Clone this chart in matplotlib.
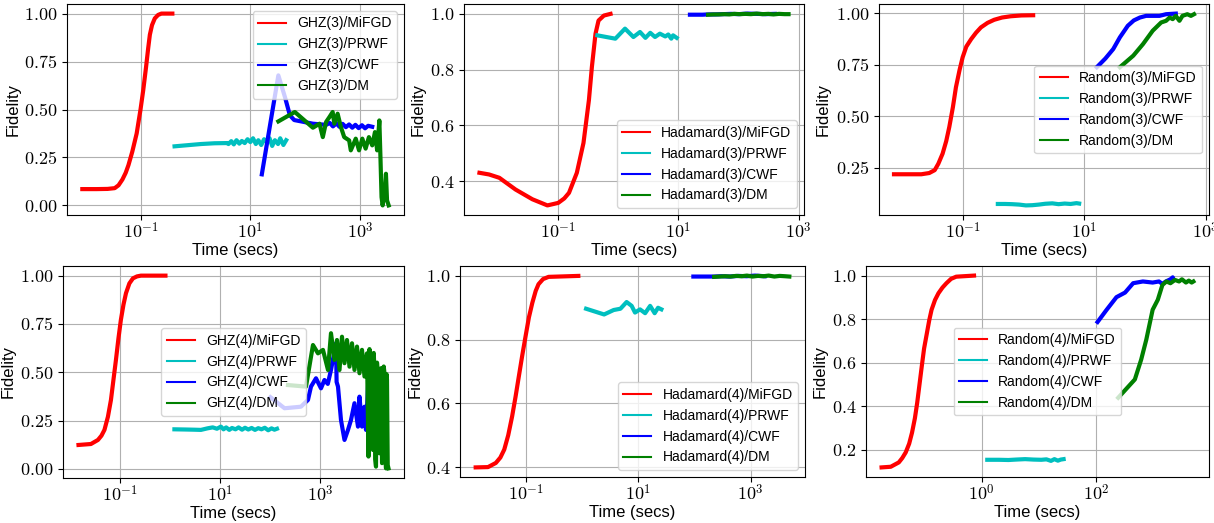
import numpy as np
import matplotlib
matplotlib.use("Agg")
import matplotlib.pyplot as plt
from matplotlib.ticker import FixedLocator, FuncFormatter, NullLocator

plt.rcParams['mathtext.fontset'] = 'cm'
plt.rcParams['font.family'] = ['Liberation Sans', 'DejaVu Sans']

methods = ["MiFGD", "PRWF", "CWF", "DM"]
colors = ["r", "c", "b", "g"]

# === GHZ(3) ===
ghz3_mifgd_t = [0.00871, 0.0158, 0.0251, 0.0339, 0.0398, 0.0468, 0.0537, 0.0603, 0.0708, 0.0851, 0.1,
                0.112, 0.126, 0.138, 0.148, 0.162, 0.182, 0.209, 0.240, 0.380]
ghz3_mifgd_f = [0.085, 0.085, 0.086, 0.09, 0.105, 0.135, 0.17, 0.21, 0.28, 0.375, 0.5,
                0.6, 0.72, 0.82, 0.89, 0.94, 0.975, 0.993, 1.0, 1.0]
ghz3_prwf_t = [0.417, 0.794, 1.26, 2.24, 3.80, 4.0, 4.5, 5.0, 5.6, 6.3, 7.0, 7.9, 8.9, 10, 11.2, 12.6, 14,
               15.8, 17.8, 20, 22.4, 25, 28, 32, 35, 40, 45]
ghz3_prwf_f = [0.308, 0.315, 0.32, 0.324, 0.325, 0.32, 0.335, 0.318, 0.34, 0.322, 0.336, 0.325, 0.345, 0.33,
               0.35, 0.32, 0.34, 0.315, 0.345, 0.33, 0.35, 0.31, 0.34, 0.32, 0.35, 0.315, 0.34]
ghz3_cwf_t = [16.2, 32.4, 42.7, 52.5, 63, 138, 240, 280, 320, 370, 420, 480, 550, 630, 720, 820, 940,
              1080, 1230, 1400, 1660]
ghz3_cwf_f = [0.162, 0.678, 0.565, 0.47, 0.445, 0.426, 0.42, 0.43, 0.412, 0.428, 0.41, 0.425, 0.408, 0.422,
              0.405, 0.42, 0.403, 0.418, 0.402, 0.415, 0.41]
ghz3_dm_t = [32.4, 64.6, 138, 182, 209, 240, 275, 316, 339, 389, 447, 513, 631, 676, 832, 955, 1096, 1259,
             1445, 1660, 1862, 2042, 2239, 2344, 2455, 2570, 2818, 2951, 3090, 3311]
ghz3_dm_f = [0.438, 0.487, 0.405, 0.426, 0.356, 0.435, 0.46, 0.487, 0.426, 0.478, 0.408, 0.356, 0.339, 0.287,
             0.348, 0.287, 0.348, 0.296, 0.356, 0.313, 0.382, 0.287, 0.443, 0.252, 0.043, 0.0, 0.078, 0.165,
             0.026, 0.0]

# === Hadamard(3) ===
had3_mifgd_t = [0.0049, 0.00708, 0.0105, 0.0195, 0.0372, 0.0661, 0.1, 0.126, 0.151, 0.204, 0.263, 0.324,
                0.363, 0.417, 0.468, 0.575, 0.741]
had3_mifgd_f = [0.430, 0.424, 0.412, 0.370, 0.335, 0.313, 0.322, 0.338, 0.358, 0.430, 0.537, 0.691, 0.810,
                0.929, 0.976, 0.994, 1.0]
had3_prwf_t = [0.447, 0.891, 1.29, 1.78, 2.29, 2.82, 3.39, 4.07, 4.90, 6.03, 6.76, 7.59, 8.13, 9.33]
had3_prwf_f = [0.923, 0.911, 0.947, 0.917, 0.935, 0.914, 0.932, 0.917, 0.929, 0.919, 0.926, 0.911, 0.923,
               0.914]
had3_cwf_t = [15.5, 20, 25, 31, 40, 55, 75, 100, 140, 200, 280, 400]
had3_cwf_f = [0.997, 0.997, 0.997, 0.998, 0.998, 0.999, 1.0, 0.999, 1.001, 1.0, 0.999, 1.0]
had3_dm_t = [31, 38, 47, 58, 70, 85, 105, 130, 160, 200, 250, 310, 380, 470, 580, 676]
had3_dm_f = [0.997, 0.998, 0.998, 0.999, 0.998, 1.0, 0.999, 1.0, 0.999, 1.001, 0.999, 1.0, 0.998, 1.0,
             0.999, 0.999]

# === Random(3) ===
rnd3_mifgd_t = [0.00741, 0.0209, 0.0282, 0.0347, 0.0398, 0.0468, 0.0537, 0.0603, 0.0692, 0.0776, 0.0891,
                0.1, 0.115, 0.138, 0.166, 0.2, 0.257, 0.331, 0.447, 0.617, 0.93, 1.45]
rnd3_mifgd_f = [0.219, 0.219, 0.225, 0.239, 0.27, 0.319, 0.38, 0.448, 0.545, 0.641, 0.725, 0.786, 0.838,
                0.874, 0.905, 0.931, 0.953, 0.968, 0.979, 0.985, 0.989, 0.990]
rnd3_prwf_t = [0.38, 0.5, 0.65, 0.85, 1.1, 1.4, 1.8, 2.3, 3.0, 3.8, 4.8, 6.0, 7.5, 8.3]
rnd3_prwf_f = [0.075, 0.075, 0.074, 0.072, 0.068, 0.069, 0.072, 0.076, 0.078, 0.074, 0.077, 0.075, 0.079,
               0.077]
rnd3_cwf_t = [16.2, 22.4, 30.2, 38.9, 52.5, 66, 83.2, 105, 174, 224, 324]
rnd3_cwf_f = [0.738, 0.78, 0.826, 0.883, 0.939, 0.965, 0.979, 0.987, 0.987, 0.995, 0.998]
rnd3_dm_t = [38.9, 64.6, 93.3, 135, 186, 224, 257, 288, 324, 372, 417, 501, 575, 646]
rnd3_dm_f = [0.738, 0.794, 0.850, 0.915, 0.955, 0.963, 0.979, 0.971, 0.987, 0.963, 0.987, 0.995, 0.987,
             0.995]

# === GHZ(4) ===
ghz4_mifgd_t = [0.0145, 0.0257, 0.0355, 0.0417, 0.0479, 0.0562, 0.0646, 0.0724, 0.0813, 0.0912, 0.102,
                0.115, 0.129, 0.151, 0.178, 0.214, 0.257, 0.794]
ghz4_mifgd_f = [0.124, 0.129, 0.15, 0.172, 0.202, 0.27, 0.357, 0.46, 0.564, 0.675, 0.771, 0.85, 0.909,
                0.96, 0.986, 0.996, 1.0, 1.0]
ghz4_prwf_t = [1.2, 2.0, 3.0, 4.07, 5.5, 7.0, 8.5, 10.2, 11.5, 13, 15, 17, 20, 23, 27, 31, 36, 42, 49, 57,
               66, 77, 90, 105, 120, 135]
ghz4_prwf_f = [0.205, 0.204, 0.203, 0.202, 0.21, 0.215, 0.208, 0.219, 0.205, 0.215, 0.202, 0.212, 0.205,
               0.215, 0.203, 0.213, 0.204, 0.212, 0.202, 0.211, 0.205, 0.213, 0.2, 0.21, 0.203, 0.208]
ghz4_cwf_t = [100, 191, 407, 562, 646, 813, 1023, 1200, 1400, 1622, 2042, 2100, 2239, 2570, 3020, 3548,
              4074, 4786, 5623, 6026, 6761, 7586, 8128, 8913]
ghz4_cwf_f = [0.371, 0.314, 0.322, 0.357, 0.426, 0.469, 0.417, 0.46, 0.44, 0.512, 0.65, 0.45, 0.426, 0.253,
              0.15, 0.202, 0.253, 0.34, 0.219, 0.374, 0.219, 0.322, 0.202, 0.426]
ghz4_dm_t = [224, 513, 708, 891, 1122, 1413, 1622, 1905, 2138, 2399, 2692, 3020, 3388, 3802, 4266, 4786,
             5370, 6026, 6761, 7586, 8511, 9120, 9550, 10000, 10600, 11220, 11600, 12020, 12400, 12880,
             13500, 14130, 14600, 15140, 15700, 16220, 17000, 17780, 18400, 19050, 19700, 20420, 21000,
             21380, 22100, 22910]
ghz4_dm_f = [0.434, 0.426, 0.641, 0.598, 0.616, 0.512, 0.702, 0.564, 0.667, 0.512, 0.684, 0.547, 0.667,
             0.529, 0.65, 0.512, 0.633, 0.495, 0.616, 0.478, 0.598, 0.064, 0.62, 0.529, 0.15, 0.098, 0.6,
             0.512, 0.05, 0.012, 0.55, 0.478, 0.12, 0.081, 0.5, 0.521, 0.03, 0.047, 0.53, 0.495, 0.08,
             0.003, 0.49, 0.46, 0.02, 0.003]

# === Hadamard(4) ===
had4_mifgd_t = [0.0126, 0.0209, 0.0288, 0.0347, 0.0407, 0.0479, 0.0562, 0.0646, 0.0741, 0.0851, 0.0977,
                0.112, 0.129, 0.148, 0.166, 0.2, 0.251, 0.851]
had4_mifgd_f = [0.399, 0.40, 0.413, 0.43, 0.455, 0.5, 0.559, 0.62, 0.685, 0.75, 0.811, 0.87, 0.916, 0.953,
                0.974, 0.99, 0.997, 1.0]
had4_prwf_t = [1.17, 2.45, 3.63, 4.79, 6.17, 7.59, 8.71, 10.7, 13.2, 16.2, 19.5, 22.4, 25.7]
had4_prwf_f = [0.897, 0.879, 0.893, 0.897, 0.918, 0.906, 0.885, 0.895, 0.883, 0.906, 0.883, 0.90, 0.895]
had4_cwf_t = [95.5, 130, 180, 224, 300, 420, 600, 850, 1200, 1778]
had4_cwf_f = [0.998, 0.998, 0.998, 0.998, 0.999, 0.998, 1.0, 0.999, 1.001, 0.999]
had4_dm_t = [224, 280, 350, 440, 550, 690, 860, 1080, 1350, 1700, 2100, 2650, 3300, 4100, 4898]
had4_dm_f = [0.997, 0.998, 0.999, 0.998, 1.0, 0.999, 1.001, 0.998, 1.0, 0.999, 1.001, 0.998, 1.0, 0.999,
             0.998]

# === Random(4) ===
rnd4_mifgd_t = [0.0182, 0.0263, 0.0363, 0.0417, 0.0479, 0.0550, 0.0617, 0.0692, 0.0759, 0.0832, 0.0912,
                0.1, 0.112, 0.123, 0.135, 0.155, 0.178, 0.209, 0.245, 0.295, 0.363, 0.741]
rnd4_mifgd_f = [0.119, 0.122, 0.142, 0.162, 0.188, 0.228, 0.279, 0.345, 0.416, 0.5, 0.584, 0.665, 0.736,
                0.795, 0.843, 0.888, 0.919, 0.945, 0.965, 0.985, 0.995, 1.0]
rnd4_prwf_t = [1.26, 2.0, 2.95, 4.0, 5.75, 8.0, 11.0, 13.5, 16.2, 18.6, 21.4, 24, 26.9]
rnd4_prwf_f = [0.154, 0.154, 0.153, 0.155, 0.157, 0.155, 0.154, 0.156, 0.149, 0.157, 0.150, 0.155, 0.157]
rnd4_cwf_t = [105, 151, 224, 316, 437, 646, 955, 1230, 1413, 1622, 1950, 2138, 2239]
rnd4_cwf_f = [0.787, 0.843, 0.901, 0.922, 0.965, 0.973, 0.968, 0.973, 0.962, 0.973, 0.983, 0.992, 0.980]
rnd4_dm_t = [240, 468, 603, 741, 955, 1175, 1413, 1660, 1950, 2344, 2754, 3090, 3631, 4074, 4571, 4898]
rnd4_dm_f = [0.439, 0.523, 0.614, 0.706, 0.843, 0.889, 0.957, 0.973, 0.965, 0.980, 0.973, 0.983, 0.968,
             0.977, 0.968, 0.973]

# panel settings: name, series, pixel box (l, t, r, b), ylabel x px, legend loc, xticks, yticks, decimals
panels = [
    ("GHZ(3)", [(ghz3_mifgd_t, ghz3_mifgd_f), (ghz3_prwf_t, ghz3_prwf_f), (ghz3_cwf_t, ghz3_cwf_f),
                (ghz3_dm_t, ghz3_dm_f)],
     (67, 4, 404, 215), 21, "upper right", [0.1, 10, 1000], [0, 0.25, 0.5, 0.75, 1.0], 2),
    ("Hadamard(3)", [(had3_mifgd_t, had3_mifgd_f), (had3_prwf_t, had3_prwf_f), (had3_cwf_t, had3_cwf_f),
                     (had3_dm_t, had3_dm_f)],
     (464, 4, 804, 215), 426, "lower right", [0.1, 10, 1000], [0.4, 0.6, 0.8, 1.0], 1),
    ("Random(3)", [(rnd3_mifgd_t, rnd3_mifgd_f), (rnd3_prwf_t, rnd3_prwf_f), (rnd3_cwf_t, rnd3_cwf_f),
                   (rnd3_dm_t, rnd3_dm_f)],
     (879, 4, 1209, 215), 831, "center right", [0.1, 10, 1000], [0.25, 0.5, 0.75, 1.0], 2),
    ("GHZ(4)", [(ghz4_mifgd_t, ghz4_mifgd_f), (ghz4_prwf_t, ghz4_prwf_f), (ghz4_cwf_t, ghz4_cwf_f),
                (ghz4_dm_t, ghz4_dm_f)],
     (63, 266, 404, 478), 16, "center", [0.1, 10, 1000], [0, 0.25, 0.5, 0.75, 1.0], 2),
    ("Hadamard(4)", [(had4_mifgd_t, had4_mifgd_f), (had4_prwf_t, had4_prwf_f), (had4_cwf_t, had4_cwf_f),
                     (had4_dm_t, had4_dm_f)],
     (460, 266, 805, 477), 423, "lower right", [0.1, 10, 1000], [0.4, 0.6, 0.8, 1.0], 1),
    ("Random(4)", [(rnd4_mifgd_t, rnd4_mifgd_f), (rnd4_prwf_t, rnd4_prwf_f), (rnd4_cwf_t, rnd4_cwf_f),
                   (rnd4_dm_t, rnd4_dm_f)],
     (866, 266, 1209, 477), 828, "center", [1, 100], [0.2, 0.4, 0.6, 0.8, 1.0], 1),
]

W, H = 1214, 523
fig = plt.figure(figsize=(W / 100, H / 100), dpi=100)

for name, series, (l, t, r, b), ylx, loc, xt, yt, dec in panels:
    ax = fig.add_axes([l / W, 1 - b / H, (r - l) / W, (b - t) / H])
    for (x, y), m, c in zip(series, methods, colors):
        ax.plot(x, y, color=c, lw=3, label=f"{name}/{m}")
    ax.set_xscale("log")
    ax.xaxis.set_major_locator(FixedLocator(xt))
    ax.xaxis.set_minor_locator(NullLocator())
    ax.xaxis.set_major_formatter(FuncFormatter(lambda v, p: r"$10^{%d}$" % round(np.log10(v))))
    ax.yaxis.set_major_locator(FixedLocator(yt))
    ax.yaxis.set_major_formatter(FuncFormatter(lambda v, p, d=dec: "$%.*f$" % (d, v)))
    ax.tick_params(labelsize=13)
    ax.tick_params(axis="x", pad=1.5)
    ax.grid(True)
    ax.set_xlabel("Time (secs)", fontsize=12)
    ax.set_ylabel("Fidelity", fontsize=12)
    ax.xaxis.set_label_coords(0.5, -28 / (b - t))
    ax.yaxis.set_label_coords((ylx - l) / (r - l), 0.5)
    leg = ax.legend(loc=loc, fontsize=10)
    for ln in leg.get_lines():
        ln.set_linewidth(1.5)

fig.savefig("out.png", dpi=100)
